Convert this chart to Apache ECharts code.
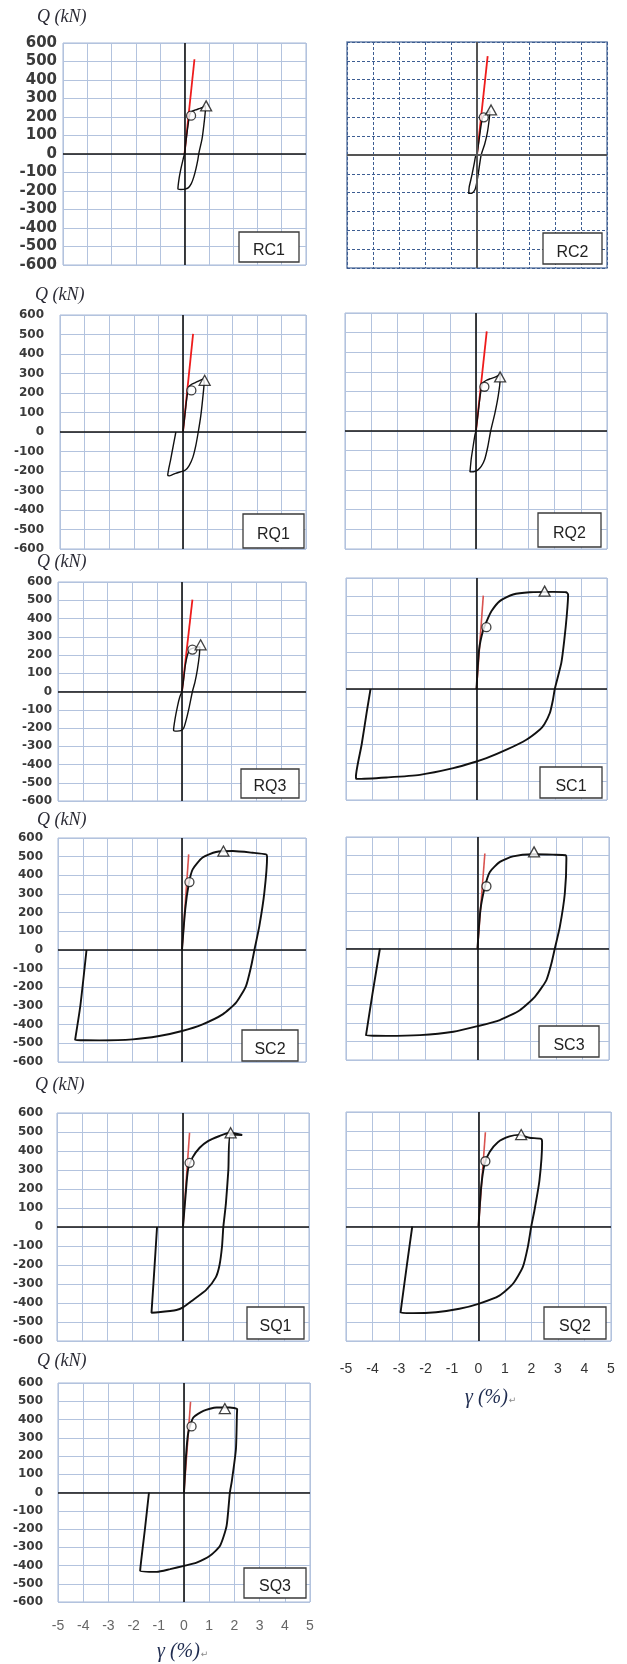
<!DOCTYPE html>
<html>
<head>
<meta charset="utf-8">
<script src="https://cdn.jsdelivr.net/npm/echarts@6/dist/echarts.min.js"></script>
<style>
  html, body { margin: 0; padding: 0; background: #fff; }
  #chart { width: 627px; height: 1664px; }
</style>
</head>
<body>
<div id="chart"></div>
<script>
// Shear force Q (kN) versus shear strain γ (%) for eleven specimens.
const panelNames = ['RC1', 'RC2', 'RQ1', 'RQ2', 'RQ3', 'SC1', 'SC2', 'SC3', 'SQ1', 'SQ2', 'SQ3'];

// Measured envelope / hysteresis path of each specimen: [γ (%), Q (kN)]
const curveRC1 = [[0,0],[0.08,90],[0.16,170],[0.22,215],[0.3,230],[0.45,238],[0.6,245],[0.75,252],[0.86,262],[0.86,240],[0.8,160],[0.72,80],[0.6,10],[0.55,-30],[0.47,-80],[0.38,-125],[0.28,-160],[0.15,-183],[0.02,-190],[-0.15,-192],[-0.27,-188],[-0.22,-130],[-0.14,-75],[-0.06,-30],[0,0]];
const curveRC2 = [[0,0],[0.08,80],[0.16,160],[0.22,200],[0.3,215],[0.42,225],[0.5,235],[0.47,190],[0.4,120],[0.3,60],[0.16,0],[0.08,-70],[0,-140],[-0.08,-185],[-0.2,-203],[-0.32,-204],[-0.3,-170],[-0.2,-110],[-0.1,-40],[-0.04,0],[0,0]];
const curveRQ1 = [[0,0],[0.08,90],[0.16,180],[0.24,232],[0.35,245],[0.5,253],[0.65,262],[0.82,272],[0.86,255],[0.8,170],[0.72,80],[0.62,0],[0.52,-70],[0.4,-130],[0.25,-172],[0.1,-195],[-0.03,-202],[-0.3,-212],[-0.55,-225],[-0.62,-222],[-0.5,-140],[-0.38,-60],[-0.29,0]];
const curveRQ2 = [[0,0],[0.08,90],[0.16,180],[0.25,243],[0.4,258],[0.55,266],[0.75,275],[0.92,288],[0.92,260],[0.85,180],[0.72,90],[0.56,0],[0.45,-80],[0.33,-145],[0.2,-180],[0.05,-200],[-0.1,-207],[-0.23,-208],[-0.18,-140],[-0.1,-70],[-0.04,-20],[0,0]];
const curveRQ3 = [[0,0],[0.06,60],[0.13,140],[0.22,200],[0.32,230],[0.45,238],[0.6,241],[0.72,246],[0.7,200],[0.62,120],[0.52,50],[0.42,0],[0.3,-80],[0.18,-150],[0.07,-200],[-0.05,-215],[-0.2,-217],[-0.34,-212],[-0.28,-150],[-0.18,-80],[-0.09,-30],[0,0]];
const curveSC1 = [[0,0],[0.1,213],[0.26,321],[0.4,370],[0.57,420],[0.89,475],[1.4,511],[2.04,523],[2.93,525],[3.44,523],[3.51,510],[3.46,400],[3.36,260],[3.25,141],[3.0,0],[2.93,-58],[2.81,-130],[2.6,-190],[2.42,-220],[1.91,-274],[1.15,-328],[0.38,-374],[0,-392],[-0.89,-428],[-2.17,-464],[-3.44,-478],[-4.59,-486],[-4.62,-475],[-4.4,-300],[-4.2,-120],[-4.06,0]];
const curveSC2 = [[0,0],[0.13,218],[0.27,352],[0.43,432],[0.83,495],[1.37,525],[2.05,530],[2.85,521],[3.39,512],[3.43,500],[3.32,307],[3.12,129],[2.92,0],[2.79,-86],[2.58,-193],[2.18,-282],[1.64,-345],[0.83,-398],[0,-434],[-0.92,-461],[-1.99,-479],[-3.34,-484],[-4.31,-482],[-4.1,-300],[-3.85,0]];
const curveSC3 = [[0,0],[0.11,206],[0.28,332],[0.47,412],[0.85,466],[1.35,496],[2.11,507],[2.87,505],[3.35,502],[3.38,484],[3.32,296],[3.13,116],[2.94,0],[2.81,-81],[2.62,-170],[2.18,-260],[1.61,-332],[0.85,-385],[0,-418],[-0.92,-448],[-2.19,-466],[-3.46,-470],[-4.24,-468],[-4.0,-250],[-3.71,0]];
const curveSQ1 = [[0,0],[0.1,162],[0.2,303],[0.37,364],[0.66,417],[0.99,452],[1.45,479],[1.85,496],[2.35,484],[1.88,486],[1.8,300],[1.7,120],[1.6,0],[1.55,-100],[1.45,-200],[1.3,-265],[0.92,-331],[0.4,-384],[0,-423],[-0.26,-437],[-0.99,-449],[-1.25,-451],[-1.15,-250],[-1.03,0]];
const curveSQ2 = [[0,0],[0.1,206],[0.23,328],[0.42,390],[0.73,442],[1.17,472],[1.55,480],[1.92,465],[2.36,459],[2.4,442],[2.3,241],[2.11,84],[1.99,0],[1.86,-108],[1.67,-213],[1.3,-300],[0.79,-362],[0,-405],[-0.72,-431],[-1.6,-449],[-2.48,-454],[-2.94,-452],[-2.7,-200],[-2.5,0]];
const curveSQ3 = [[0,0],[0.08,201],[0.17,329],[0.37,411],[0.77,447],[1.29,466],[1.82,466],[2.11,457],[2.1,430],[2.06,237],[1.89,55],[1.82,0],[1.69,-183],[1.43,-292],[1.03,-347],[0.5,-384],[0,-402],[-0.55,-420],[-1.08,-435],[-1.74,-429],[-1.55,-200],[-1.39,0]];
const hysteresis = [curveRC1, curveRC2, curveRQ1, curveRQ2, curveRQ3, curveSC1, curveSC2, curveSC3, curveSQ1, curveSQ2, curveSQ3];

// Initial elastic stiffness line, drawn from the origin to this point
const elasticEnd = [[0.41,512],[0.41,525],[0.41,503],[0.41,507],[0.42,503],[0.26,505],[0.27,512],[0.28,511],[0.26,496],[0.26,494],[0.26,497]];
// Yield point (circle) and maximum strength point (triangle)
const yieldPoint = [[0.27,207],[0.26,200],[0.34,213],[0.32,225],[0.42,230],[0.38,334],[0.3,364],[0.34,335],[0.26,338],[0.26,342],[0.3,362]];
const peakPoint  = [[0.89,260],[0.54,239],[0.88,265],[0.92,275],[0.75,256],[2.61,529],[1.67,530],[2.15,520],[1.89,496],[1.61,482],[1.62,460]];

// Axis ranges and tick spacing
const strainRange = [-5, 5], strainStep = 1;
const shearRange = [-600, 600], shearStep = 100;
const shearAxisTitle = 'Q (kN)';
const strainAxisTitle = 'γ (%)';

// Panel placement on the page (pixels)
const frames = [
  { left: 63,  top: 43,   width: 243, height: 222, yLab: true,  yMargin: 6,  yFont: 15, box: [239, 232, 60, 30] },
  { left: 347, top: 42,   width: 260, height: 226, dashed: true,              box: [543, 233, 59, 31] },
  { left: 60,  top: 315,  width: 246, height: 234, yLab: true,  yMargin: 16, yFont: 12, box: [243, 514, 61, 34] },
  { left: 345, top: 313,  width: 262, height: 236,                            box: [538, 513, 63, 34] },
  { left: 58,  top: 582,  width: 248, height: 219, yLab: true,  yMargin: 6,  yFont: 12, box: [241, 769, 58, 29] },
  { left: 346, top: 578,  width: 261, height: 222,                            box: [540, 767, 62, 31] },
  { left: 58,  top: 838,  width: 248, height: 224, yLab: true,  yMargin: 15, yFont: 12, box: [242, 1030, 56, 31] },
  { left: 346, top: 837,  width: 263, height: 223,                            box: [539, 1026, 60, 31] },
  { left: 57,  top: 1113, width: 252, height: 228, yLab: true,  yMargin: 14, yFont: 12, box: [247, 1307, 57, 32] },
  { left: 346, top: 1112, width: 265, height: 229, xLab: true,  xMargin: 21, xColor: '#333', box: [544, 1307, 62, 32] },
  { left: 58,  top: 1383, width: 252, height: 219, yLab: true,  yMargin: 15, yFont: 12, xLab: true, xMargin: 17, xColor: '#666', box: [244, 1568, 62, 30] }
];
const shearTitlePos = [[37, 17], [35, 295], [37, 562], [37, 820], [35, 1085], [37, 1361]];
const strainTitlePos = [[465, 1398], [157, 1652]];

const grids = [], xAxes = [], yAxes = [], series = [], graphics = [];

frames.forEach((f, i) => {
  const steelPanel = i >= 5;
  const gridColor = f.dashed ? '#3d5d92' : '#b3c3de';
  const gridType = f.dashed ? [3, 2] : 'solid';
  grids.push({
    left: f.left, top: f.top, width: f.width, height: f.height,
    show: true, borderColor: f.dashed ? '#6a82ab' : '#a4b7d6', borderWidth: f.dashed ? 1.5 : 1,
    backgroundColor: 'transparent'
  });
  xAxes.push({
    gridIndex: i, type: 'value', min: strainRange[0], max: strainRange[1], interval: strainStep,
    axisLine: { show: false }, axisTick: { show: false },
    axisLabel: { show: !!f.xLab, margin: f.xMargin || 8, fontSize: 14, color: f.xColor || '#333', fontFamily: 'Liberation Sans' },
    splitLine: { show: true, lineStyle: { color: gridColor, width: 1, type: gridType } }
  });
  yAxes.push({
    gridIndex: i, type: 'value', min: shearRange[0], max: shearRange[1], interval: shearStep,
    axisLine: { show: false, onZero: false }, axisTick: { show: false },
    axisLabel: { show: !!f.yLab, margin: f.yMargin || 8, fontSize: f.yFont || 12, fontWeight: 'bold', color: '#3a3a3a', fontFamily: 'DejaVu Sans' },
    splitLine: { show: true, lineStyle: { color: gridColor, width: 1, type: gridType } }
  });

  // Zero axes through the origin
  series.push({
    type: 'line', xAxisIndex: i, yAxisIndex: i, data: [], silent: true,
    markLine: {
      silent: true, symbol: 'none', label: { show: false }, animation: false,
      lineStyle: { color: f.dashed ? '#555' : '#111', width: f.dashed ? 2 : 1.6, type: 'solid' },
      data: [{ xAxis: 0 }, { yAxis: 0 }]
    }
  });
  // Elastic stiffness line
  series.push({
    type: 'line', xAxisIndex: i, yAxisIndex: i, data: [[0, 0], elasticEnd[i]],
    showSymbol: false, lineStyle: { color: steelPanel ? '#d9534f' : '#ee1c1c', width: steelPanel ? 1.6 : 1.8 },
    z: 3
  });
  // Hysteresis path
  series.push({
    type: 'line', xAxisIndex: i, yAxisIndex: i, data: hysteresis[i],
    showSymbol: false, smooth: 0.2, lineStyle: { color: '#111', width: steelPanel ? 1.9 : 1.4 },
    z: 4
  });
  // Yield point
  series.push({
    type: 'scatter', xAxisIndex: i, yAxisIndex: i, data: [yieldPoint[i]],
    symbol: 'circle', symbolSize: 9,
    itemStyle: { color: '#fff', borderColor: '#111', borderWidth: 1.3 }, z: 5
  });
  // Maximum strength point
  series.push({
    type: 'scatter', xAxisIndex: i, yAxisIndex: i, data: [peakPoint[i]],
    symbol: 'triangle', symbolSize: [11, 10],
    itemStyle: { color: '#fff', borderColor: '#111', borderWidth: 1.3 }, z: 5
  });

  // Specimen name box
  const [bx, by, bw, bh] = f.box;
  graphics.push({
    type: 'rect', shape: { x: bx, y: by, width: bw, height: bh },
    style: { fill: '#fff', stroke: '#3a3a3a', lineWidth: 1.3 }, z: 10
  });
  graphics.push({
    type: 'text', x: bx + bw / 2, y: by + bh * 0.62,
    style: { text: panelNames[i], fill: '#222', font: '16px "Liberation Sans", Arial, sans-serif', textAlign: 'center', textVerticalAlign: 'middle' },
    z: 11
  });
});

shearTitlePos.forEach(([x, y]) => {
  graphics.push({
    type: 'text', x: x, y: y,
    style: { text: shearAxisTitle, fill: '#2b2b35', font: 'italic 18px "Liberation Serif", "DejaVu Serif", serif', textAlign: 'left', textVerticalAlign: 'middle' },
    z: 11
  });
});
strainTitlePos.forEach(([x, y]) => {
  graphics.push({
    type: 'text', x: x, y: y,
    style: {
      text: '{a|' + strainAxisTitle + '}{b|↵}', textAlign: 'left', textVerticalAlign: 'middle',
      rich: {
        a: { fill: '#1e2b4f', font: 'italic 20px "Liberation Serif", "DejaVu Serif", serif' },
        b: { fill: '#888', font: '9px "DejaVu Sans", sans-serif', padding: [6, 0, 0, 1] }
      }
    },
    z: 11
  });
});

const chart = echarts.init(document.getElementById('chart'), null, { renderer: 'canvas' });
chart.setOption({
  animation: false,
  backgroundColor: '#fff',
  grid: grids,
  xAxis: xAxes,
  yAxis: yAxes,
  series: series,
  graphic: graphics
});
</script>
</body>
</html>
